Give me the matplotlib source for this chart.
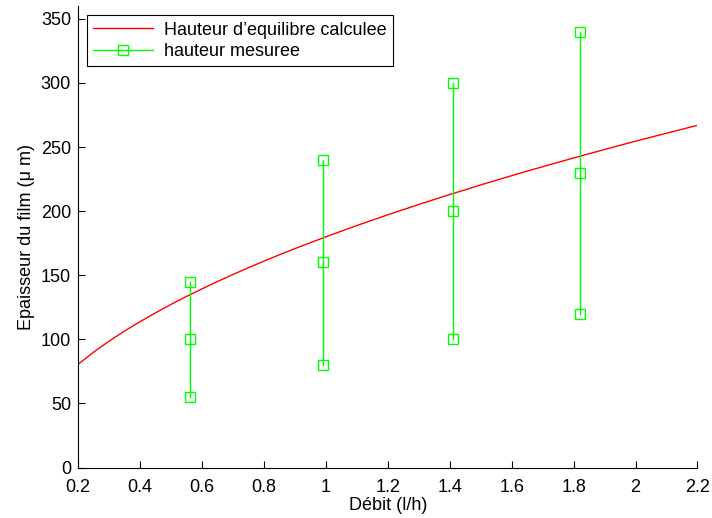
#!/usr/bin/env python3
# plot.py
# Epaisseur du film : hauteur calculee vs hauteur mesuree

import matplotlib
matplotlib.use('Agg')
import matplotlib.pyplot as plt

# courbe calculee
debit_calc = [0.2, 0.25, 0.3, 0.35, 0.4, 0.45, 0.5, 0.55, 0.6, 0.65, 0.7, 0.75, 0.8,
              0.85, 0.9, 0.95, 1.0, 1.05, 1.1, 1.15, 1.2, 1.25, 1.3, 1.35, 1.4, 1.45,
              1.5, 1.55, 1.6, 1.65, 1.7, 1.75, 1.8, 1.85, 1.9, 1.95, 2.0, 2.05, 2.1,
              2.15, 2.2]
hauteur_calc = [80.5, 90.0, 98.6, 106.5, 113.8, 120.7, 127.3, 133.5, 139.4, 145.1,
                150.6, 155.9, 161.0, 166.0, 170.8, 175.4, 180.0, 184.4, 188.8, 193.0,
                197.2, 201.2, 205.2, 209.1, 213.0, 216.7, 220.5, 224.1, 227.7, 231.2,
                234.7, 238.1, 241.5, 244.8, 248.1, 251.4, 254.6, 257.7, 260.8, 263.9,
                267.0]

# points mesures : min, moyenne, max pour chaque debit
debit_mes = [0.56, 0.99, 1.41, 1.82]
hauteur_min = [55, 80, 100, 120]
hauteur_moy = [100, 160, 200, 230]
hauteur_max = [145, 240, 300, 340]

x_ticks = [0.2, 0.4, 0.6, 0.8, 1, 1.2, 1.4, 1.6, 1.8, 2, 2.2]
x_labels = ['0.2', '0.4', '0.6', '0.8', '1', '1.2', '1.4', '1.6', '1.8', '2', '2.2']
y_ticks = [0, 50, 100, 150, 200, 250, 300, 350]

plt.rcParams['font.family'] = ['Liberation Sans', 'DejaVu Sans']
plt.rcParams['font.size'] = 13

fig = plt.figure(figsize=(7.12, 5.18), dpi=100)
ax = fig.add_axes([0.1096, 0.0973, 0.870, 0.891])

ax.plot(debit_calc, hauteur_calc, color='red', lw=1, label="Hauteur d\u2019equilibre calculee")

for i, x in enumerate(debit_mes):
    ax.plot([x, x, x], [hauteur_min[i], hauteur_moy[i], hauteur_max[i]],
            color='#00ff00', lw=1, marker='s', markersize=6.5,
            markerfacecolor='none', markeredgecolor='#00ff00',
            label='hauteur mesuree' if i == 0 else None)

ax.set_xlim(0.2, 2.2)
ax.set_ylim(0, 360)
ax.set_xticks(x_ticks)
ax.set_xticklabels(x_labels)
ax.set_yticks(y_ticks)
ax.tick_params(direction='in', length=5, width=0.8, labelsize=13)
ax.tick_params(axis='x', pad=8)
ax.tick_params(axis='y', pad=5)
ax.spines['top'].set_visible(False)
ax.spines['right'].set_visible(False)

ax.set_xlabel('Débit (l/h)', fontsize=13, labelpad=1)
ax.set_ylabel('Epaisseur du film (\u03bc m)', fontsize=13, labelpad=4)

leg = ax.legend(loc='upper left', bbox_to_anchor=(0.0145, 0.980), borderaxespad=0,
                fancybox=False, edgecolor='black', framealpha=1, fontsize=13,
                handlelength=3.3, borderpad=0.35, labelspacing=0.25, handletextpad=0.6)
leg.get_frame().set_linewidth(0.8)

fig.savefig('out.png', dpi=100)
